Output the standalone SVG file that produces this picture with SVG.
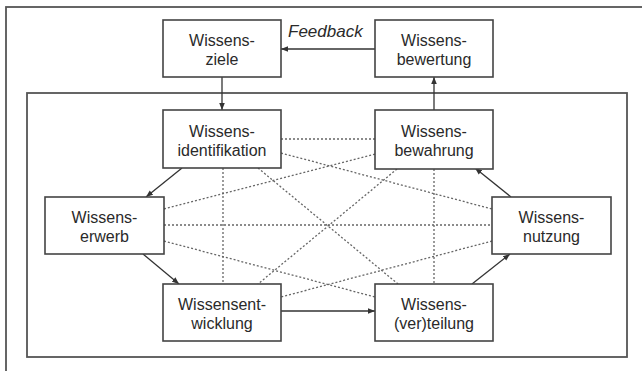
<svg xmlns="http://www.w3.org/2000/svg" width="642" height="371" viewBox="0 0 642 371">
<defs>
<marker id="ah" viewBox="0 0 10 10" refX="10" refY="5" markerWidth="7" markerHeight="7" markerUnits="userSpaceOnUse" orient="auto">
<path d="M0,1 L10,5 L0,9 Z" fill="#333"/>
</marker>
<style>
.frame{fill:none;stroke:#555;stroke-width:1.8}
.box{fill:#fff;stroke:#444;stroke-width:1.6}
.t{font-family:"Liberation Sans",Arial,sans-serif;font-size:16px;fill:#2a2a2a;text-anchor:middle}
.fb{font-family:"Liberation Sans",Arial,sans-serif;font-size:17px;font-style:italic;fill:#2a2a2a}
.arr{fill:none;stroke:#333;stroke-width:1.3;marker-end:url(#ah)}
.dot{fill:none;stroke:#666;stroke-width:1.3;stroke-dasharray:2 2}
</style>
</defs>
<rect width="642" height="371" fill="#fff"/>
<rect class="frame" x="6" y="7" width="650" height="380"/>
<rect class="frame" x="27" y="93" width="600" height="264"/>
<g id="connectors">
<line class="dot" x1="281" y1="139" x2="375" y2="139"/>
<line class="dot" x1="223" y1="168" x2="223" y2="284"/>
<line class="dot" x1="434" y1="169" x2="434" y2="284"/>
<line class="dot" x1="164" y1="225" x2="492" y2="225"/>
<line class="dot" x1="258" y1="168" x2="398" y2="284"/>
<line class="dot" x1="397" y1="169" x2="258" y2="284"/>
<line class="dot" x1="281" y1="153" x2="492" y2="209"/>
<line class="dot" x1="164" y1="209" x2="375" y2="154"/>
<line class="dot" x1="164" y1="241" x2="375" y2="297"/>
<line class="dot" x1="492" y1="241" x2="281" y2="297"/>
<line class="arr" x1="222" y1="77" x2="222" y2="110"/>
<line class="arr" x1="434" y1="110" x2="434" y2="77"/>
<line class="arr" x1="375" y1="49" x2="281" y2="49"/>
<line class="arr" x1="182" y1="168" x2="146" y2="197"/>
<line class="arr" x1="143" y1="254" x2="179" y2="284"/>
<line class="arr" x1="281" y1="311" x2="375" y2="311"/>
<line class="arr" x1="472" y1="284" x2="510" y2="254"/>
<line class="arr" x1="511" y1="197" x2="475" y2="168"/>
</g>
<text class="fb" x="288" y="37">Feedback</text>
<g id="ziele"><rect class="box" x="163" y="20" width="118" height="57"/><text class="t" x="222" y="46">Wissens-</text><text class="t" x="222" y="65">ziele</text></g>
<g id="bewertung"><rect class="box" x="375" y="20" width="118" height="57"/><text class="t" x="434" y="46">Wissens-</text><text class="t" x="434" y="65">bewertung</text></g>
<g id="identifikation"><rect class="box" x="163" y="110" width="118" height="58"/><text class="t" x="222" y="137">Wissens-</text><text class="t" x="222" y="156">identifikation</text></g>
<g id="bewahrung"><rect class="box" x="375" y="110" width="118" height="59"/><text class="t" x="434" y="137">Wissens-</text><text class="t" x="434" y="156">bewahrung</text></g>
<g id="erwerb"><rect class="box" x="45" y="197" width="119" height="57"/><text class="t" x="104.5" y="223">Wissens-</text><text class="t" x="104.5" y="242">erwerb</text></g>
<g id="nutzung"><rect class="box" x="492" y="197" width="119" height="57"/><text class="t" x="551.5" y="223">Wissens-</text><text class="t" x="551.5" y="242">nutzung</text></g>
<g id="entwicklung"><rect class="box" x="163" y="284" width="118" height="57"/><text class="t" x="222" y="310">Wissensent-</text><text class="t" x="222" y="329">wicklung</text></g>
<g id="verteilung"><rect class="box" x="375" y="284" width="118" height="57"/><text class="t" x="434" y="310">Wissens-</text><text class="t" x="434" y="329">(ver)teilung</text></g>
</svg>
